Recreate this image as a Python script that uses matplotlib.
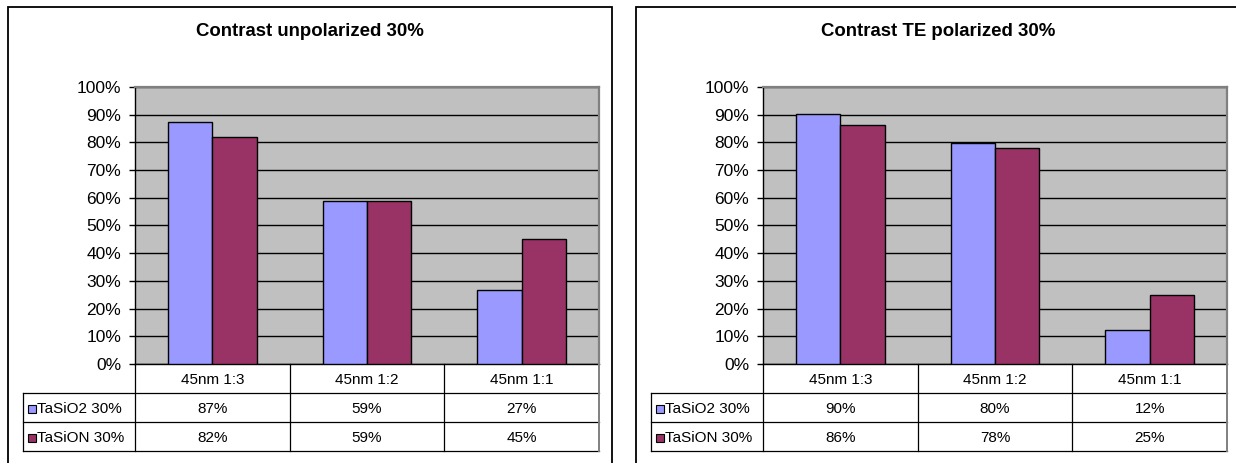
import matplotlib

matplotlib.use("Agg")
import matplotlib.pyplot as plt
from matplotlib.patches import Rectangle
from matplotlib.ticker import FuncFormatter, MultipleLocator

categories = ["45nm 1:3", "45nm 1:2", "45nm 1:1"]
series_names = ["TaSiO2 30%", "TaSiON 30%"]

# contrast values (fraction), unpolarized light
unpol_tasio2 = [0.872, 0.587, 0.266]
unpol_tasion = [0.818, 0.587, 0.453]

# contrast values (fraction), TE polarized light
te_tasio2 = [0.904, 0.797, 0.121]
te_tasion = [0.864, 0.780, 0.250]

W, H = 1236, 463
colors = ["#9999FF", "#993366"]


def fx(px):
    return px / W


def fy(py):
    return 1 - py / H


def plot_chart(fig, left, title, values):
    # left = x pixel of the chart frame
    plot_l = left + 127
    plot_r = plot_l + 464
    plot_t, plot_b = 87, 364
    tab_l = left + 15
    tab_b = 451

    fig.patches.append(
        Rectangle((fx(left), -0.1), fx(604), fy(6.5) + 0.1, transform=fig.transFigure,
                  facecolor="none", edgecolor="black", linewidth=1.3, zorder=-1)
    )
    fig.text(fx(left + 302), fy(32), title, ha="center", va="center",
             fontsize=13.4, fontweight="bold")

    ax = fig.add_axes([fx(plot_l), fy(plot_b), fx(plot_r - plot_l), (plot_b - plot_t) / H])
    ax.set_facecolor("#C0C0C0")
    n = len(categories)
    width = 1 / 3.5
    for j, vals in enumerate(values):
        xs = [i + (j - 0.5) * width for i in range(n)]
        ax.bar(xs, vals, width=width, color=colors[j], edgecolor="black", linewidth=1.0, zorder=3)
    ax.set_xlim(-0.5, n - 0.5)
    ax.set_ylim(0, 1)
    ax.yaxis.set_major_locator(MultipleLocator(0.1))
    ax.yaxis.set_major_formatter(FuncFormatter(lambda v, _: f"{round(v * 100)}%"))
    ax.set_xticks([])
    ax.grid(axis="y", color="black", linewidth=1.0, zorder=1)
    ax.tick_params(axis="y", direction="out", length=4, width=1, pad=6, labelsize=12.5)
    for side in ["top", "right"]:
        ax.spines[side].set_color("#808080")
        ax.spines[side].set_linewidth(1.6)
    ax.spines["left"].set_linewidth(1.0)
    ax.spines["bottom"].set_linewidth(1.0)

    # data table under the plot
    legw = (plot_l - tab_l) / 154.67
    tab = fig.add_axes([fx(tab_l), fy(tab_b), fx(plot_r - tab_l), (tab_b - plot_b) / H])
    tab.set_xlim(-0.5 - legw, n - 0.5)
    tab.set_ylim(3, 0)
    tab.axis("off")
    x0 = -0.5 - legw
    lw = 0.9
    for y in [1, 2, 3]:
        tab.plot([x0, n - 0.5], [y, y], color="black", linewidth=lw, clip_on=False)
    tab.plot([x0, x0], [1, 3], color="black", linewidth=lw, clip_on=False)
    for x in [i - 0.5 for i in range(n)]:
        tab.plot([x, x], [0, 3], color="black", linewidth=lw, clip_on=False)
    tab.plot([n - 0.5, n - 0.5], [0, 3], color="#808080", linewidth=1.4, clip_on=False)
    fs = 11
    for i, cat in enumerate(categories):
        tab.text(i, 0.55, cat, ha="center", va="center", fontsize=fs)
    for j, vals in enumerate(values):
        tab.plot([x0 + 9 / 154.67], [j + 1.55], marker="s", markersize=5.8,
                 markerfacecolor=colors[j], markeredgecolor="black", markeredgewidth=0.8,
                 clip_on=False)
        tab.text(x0 + 14 / 154.67, j + 1.55, series_names[j], ha="left", va="center", fontsize=fs)
        for i, v in enumerate(vals):
            tab.text(i, j + 1.55, f"{round(v * 100)}%", ha="center", va="center", fontsize=fs)


plt.rcParams["font.family"] = ["Liberation Sans", "DejaVu Sans"]
fig = plt.figure(figsize=(W / 100, H / 100), dpi=100)
plot_chart(fig, 8, "Contrast unpolarized 30%", [unpol_tasio2, unpol_tasion])
plot_chart(fig, 636, "Contrast TE polarized 30%", [te_tasio2, te_tasion])
fig.savefig("out.png", dpi=100)
